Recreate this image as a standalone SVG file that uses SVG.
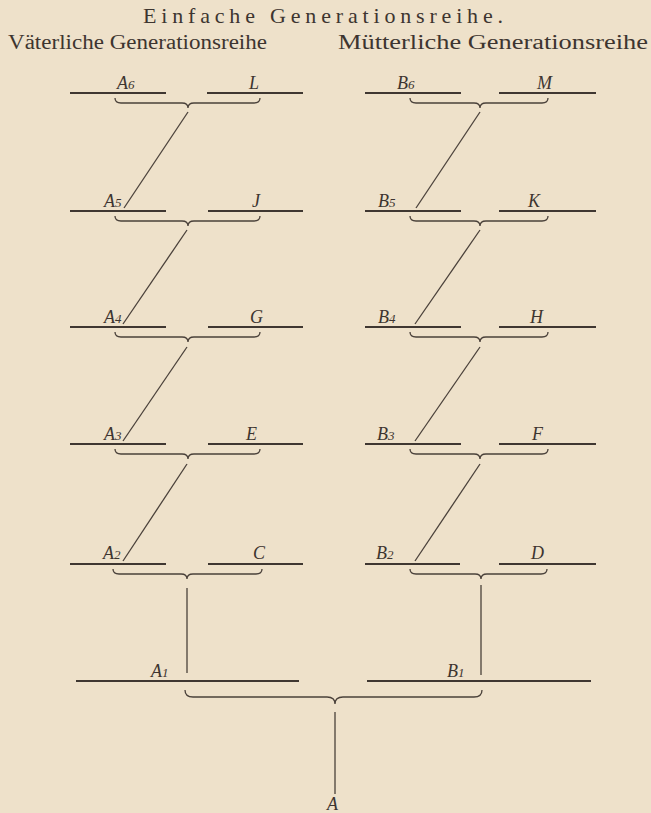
<svg xmlns="http://www.w3.org/2000/svg" width="651" height="813" viewBox="0 0 651 813">
<defs>
<style>
.bg{fill:#eee1ca}
.ln{stroke:#3f3731;stroke-width:2.2;fill:none}
.br{stroke:#4a413a;stroke-width:1.3;fill:none}
.cn{stroke:#4a413a;stroke-width:1.3;fill:none}
.hd{font-family:"Liberation Serif",serif;fill:#3d3530}
.lb{font-family:"Liberation Serif",serif;font-style:italic;font-size:18px;fill:#3d3530}
.sb{font-size:13px}
</style>
</defs>
<rect class="bg" x="0" y="0" width="651" height="813"/>
<g id="headings">
<text class="hd" x="143" y="23" font-size="22" textLength="360" lengthAdjust="spacing">Einfache Generationsreihe.</text>
<text class="hd" x="8" y="49" font-size="20" textLength="259" lengthAdjust="spacingAndGlyphs">Väterliche Generationsreihe</text>
<text class="hd" x="338" y="49" font-size="20" textLength="310" lengthAdjust="spacingAndGlyphs">Mütterliche Generationsreihe</text>
</g>
<g id="connectors">
<path class="br" d="M115 98 Q115 103 121 103 L182 103 Q188 103 188 108 Q188 103 194 103 L254 103 Q260 103 260 98"/>
<path class="br" d="M410 98 Q410 103 416 103 L474 103 Q480 103 480 108 Q480 103 486 103 L542 103 Q548 103 548 98"/>
<path class="br" d="M115 216 Q115 221 121 221 L182 221 Q188 221 188 226 Q188 221 194 221 L254 221 Q260 221 260 216"/>
<path class="br" d="M410 216 Q410 221 416 221 L474 221 Q480 221 480 226 Q480 221 486 221 L542 221 Q548 221 548 216"/>
<path class="br" d="M115 332 Q115 337 121 337 L182 337 Q188 337 188 342 Q188 337 194 337 L254 337 Q260 337 260 332"/>
<path class="br" d="M410 332 Q410 337 416 337 L474 337 Q480 337 480 342 Q480 337 486 337 L542 337 Q548 337 548 332"/>
<path class="br" d="M115 449 Q115 454 121 454 L182 454 Q188 454 188 459 Q188 454 194 454 L254 454 Q260 454 260 449"/>
<path class="br" d="M410 449 Q410 454 416 454 L474 454 Q480 454 480 459 Q480 454 486 454 L542 454 Q548 454 548 449"/>
<path class="br" d="M113 569 Q113 574 119 574 L181 574 Q187 574 187 579 Q187 574 193 574 L256 574 Q262 574 262 569"/>
<path class="br" d="M410 569 Q410 574 416 574 L475 574 Q481 574 481 579 Q481 574 487 574 L541 574 Q547 574 547 569"/>
<path class="br" d="M185 690 Q185 697 193 697 L327 697 Q335 697 335 704 Q335 697 343 697 L474 697 Q482 697 482 690"/>
<line class="cn" x1="188" y1="112" x2="124" y2="208"/>
<line class="cn" x1="480" y1="112" x2="416" y2="208"/>
<line class="cn" x1="187" y1="230" x2="123" y2="324"/>
<line class="cn" x1="480" y1="230" x2="415" y2="324"/>
<line class="cn" x1="187" y1="347" x2="123" y2="441"/>
<line class="cn" x1="480" y1="347" x2="415" y2="441"/>
<line class="cn" x1="187" y1="464" x2="123" y2="561"/>
<line class="cn" x1="480" y1="464" x2="415" y2="561"/>
<line class="cn" x1="187" y1="588" x2="187" y2="673"/>
<line class="cn" x1="481" y1="585" x2="481" y2="675"/>
<line class="cn" x1="335" y1="712" x2="335" y2="794"/>
</g>
<g id="row6">
<line class="ln" x1="70" y1="93" x2="166" y2="93"/><line class="ln" x1="207" y1="93" x2="303" y2="93"/>
<line class="ln" x1="365" y1="93" x2="461" y2="93"/><line class="ln" x1="499" y1="93" x2="596" y2="93"/>
<text class="lb" x="117" y="89">A<tspan class="sb">6</tspan></text><text class="lb" x="249" y="89">L</text>
<text class="lb" x="397" y="89">B<tspan class="sb">6</tspan></text><text class="lb" x="537" y="89">M</text>
</g>
<g id="row5">
<line class="ln" x1="70" y1="211" x2="166" y2="211"/><line class="ln" x1="208" y1="211" x2="303" y2="211"/>
<line class="ln" x1="365" y1="211" x2="461" y2="211"/><line class="ln" x1="499" y1="211" x2="596" y2="211"/>
<text class="lb" x="104" y="207">A<tspan class="sb">5</tspan></text><text class="lb" x="252" y="207">J</text>
<text class="lb" x="378" y="207">B<tspan class="sb">5</tspan></text><text class="lb" x="528" y="207">K</text>
</g>
<g id="row4">
<line class="ln" x1="70" y1="327" x2="166" y2="327"/><line class="ln" x1="208" y1="327" x2="303" y2="327"/>
<line class="ln" x1="365" y1="327" x2="461" y2="327"/><line class="ln" x1="499" y1="327" x2="596" y2="327"/>
<text class="lb" x="104" y="323">A<tspan class="sb">4</tspan></text><text class="lb" x="250" y="323">G</text>
<text class="lb" x="378" y="323">B<tspan class="sb">4</tspan></text><text class="lb" x="530" y="323">H</text>
</g>
<g id="row3">
<line class="ln" x1="70" y1="444" x2="166" y2="444"/><line class="ln" x1="208" y1="444" x2="303" y2="444"/>
<line class="ln" x1="365" y1="444" x2="461" y2="444"/><line class="ln" x1="499" y1="444" x2="596" y2="444"/>
<text class="lb" x="104" y="440">A<tspan class="sb">3</tspan></text><text class="lb" x="246" y="440">E</text>
<text class="lb" x="377" y="440">B<tspan class="sb">3</tspan></text><text class="lb" x="532" y="440">F</text>
</g>
<g id="row2">
<line class="ln" x1="70" y1="564" x2="166" y2="564"/><line class="ln" x1="208" y1="564" x2="303" y2="564"/>
<line class="ln" x1="365" y1="564" x2="460" y2="564"/><line class="ln" x1="499" y1="564" x2="596" y2="564"/>
<text class="lb" x="103" y="559">A<tspan class="sb">2</tspan></text><text class="lb" x="253" y="559">C</text>
<text class="lb" x="376" y="559">B<tspan class="sb">2</tspan></text><text class="lb" x="531" y="559">D</text>
</g>
<g id="row1">
<line class="ln" x1="76" y1="681" x2="299" y2="681"/>
<line class="ln" x1="367" y1="681" x2="591" y2="681"/>
<text class="lb" x="151" y="677">A<tspan class="sb">1</tspan></text>
<text class="lb" x="447" y="677">B<tspan class="sb">1</tspan></text>
</g>
<g id="root">
<text class="lb" x="327" y="810">A</text>
</g>
</svg>
